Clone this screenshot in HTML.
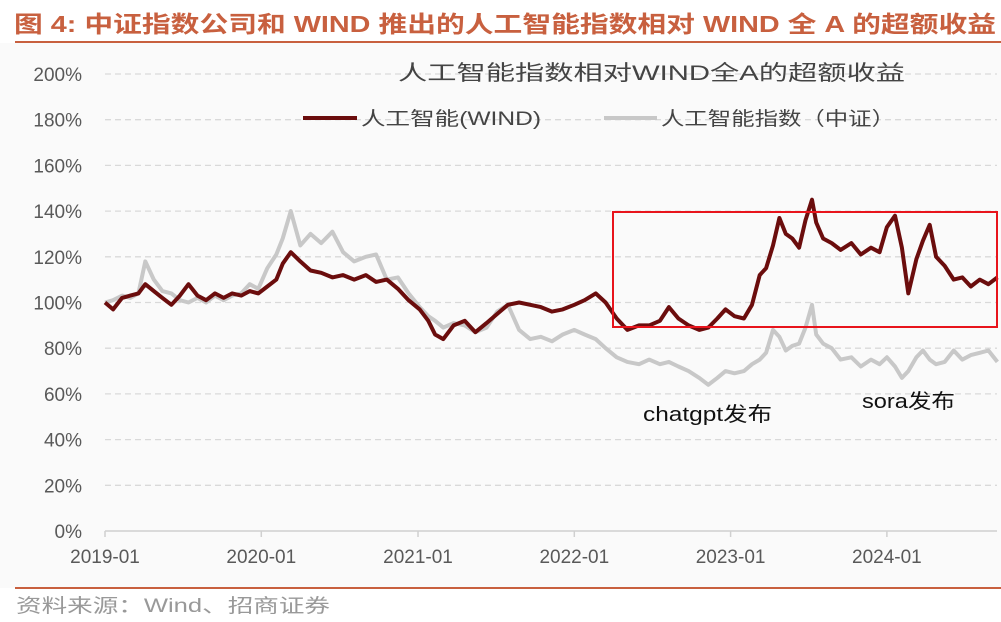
<!DOCTYPE html>
<html><head><meta charset="utf-8"><style>
body{margin:0;background:#fff;width:1001px;height:617px;overflow:hidden;font-family:"Liberation Sans","Noto Sans CJK SC",sans-serif}
</style></head><body>
<svg id="c" width="1001" height="617" xmlns="http://www.w3.org/2000/svg">
<rect x="0" y="43" width="1001" height="545" fill="#fafafa"/>
<text x="14" y="32" font-size="23" font-weight="bold" fill="#c8603f" textLength="982" lengthAdjust="spacingAndGlyphs" font-family="Liberation Sans,Noto Sans CJK SC,sans-serif">图 4:  中证指数公司和 WIND 推出的人工智能指数相对 WIND 全 A 的超额收益</text>
<line x1="15" y1="42" x2="1001" y2="42" stroke="#c8603f" stroke-width="2"/>
<line x1="15" y1="588" x2="1001" y2="588" stroke="#c8603f" stroke-width="2"/>
<text x="16" y="612" font-size="19" fill="#999" textLength="314" lengthAdjust="spacingAndGlyphs" font-family="Liberation Sans,Noto Sans CJK SC,sans-serif">资料来源：Wind、招商证券</text>
<g id="grid"></g><g id="axes"></g><g id="series"></g>
<text x="398" y="80" font-size="21" fill="#444" textLength="507" lengthAdjust="spacingAndGlyphs" font-family="Liberation Sans,Noto Sans CJK SC,sans-serif">人工智能指数相对WIND全A的超额收益</text>
<g>
<line x1="303" y1="118" x2="357" y2="118" stroke="#6b0d0d" stroke-width="4"/>
<text x="361" y="125" font-size="19" fill="#444" textLength="180" lengthAdjust="spacingAndGlyphs" font-family="Liberation Sans,Noto Sans CJK SC,sans-serif">人工智能(WIND)</text>
<line x1="604" y1="118" x2="657" y2="118" stroke="#c8c8c8" stroke-width="4"/>
<text x="661" y="125" font-size="19" fill="#444" textLength="234" lengthAdjust="spacingAndGlyphs" font-family="Liberation Sans,Noto Sans CJK SC,sans-serif">人工智能指数（中证）</text>
</g>
<rect x="613" y="212" width="384" height="115" fill="none" stroke="#e8141c" stroke-width="2"/>
<text x="643" y="421" font-size="20" fill="#111" textLength="129" lengthAdjust="spacingAndGlyphs" font-family="Liberation Sans,Noto Sans CJK SC,sans-serif">chatgpt发布</text>
<text x="862" y="408" font-size="20" fill="#111" textLength="93" lengthAdjust="spacingAndGlyphs" font-family="Liberation Sans,Noto Sans CJK SC,sans-serif">sora发布</text>
</svg>
<script>
const dates=["2019-01-01","2019-01-20","2019-02-10","2019-03-01","2019-03-20","2019-04-05","2019-04-25","2019-05-15","2019-06-05","2019-06-25","2019-07-15","2019-08-05","2019-08-25","2019-09-15","2019-10-05","2019-10-25","2019-11-15","2019-12-05","2019-12-25","2020-01-15","2020-02-05","2020-02-20","2020-03-10","2020-04-01","2020-04-25","2020-05-20","2020-06-15","2020-07-10","2020-08-05","2020-09-01","2020-09-25","2020-10-20","2020-11-15","2020-12-10","2021-01-05","2021-01-25","2021-02-10","2021-03-01","2021-03-25","2021-04-20","2021-05-15","2021-06-10","2021-07-05","2021-07-30","2021-08-25","2021-09-20","2021-10-15","2021-11-10","2021-12-05","2022-01-01","2022-01-25","2022-02-20","2022-03-15","2022-04-10","2022-05-05","2022-06-01","2022-06-25","2022-07-20","2022-08-10","2022-09-01","2022-09-25","2022-10-20","2022-11-10","2022-12-01","2022-12-20","2023-01-10","2023-02-01","2023-02-20","2023-03-10","2023-03-25","2023-04-10","2023-04-25","2023-05-10","2023-05-25","2023-06-10","2023-06-25","2023-07-10","2023-07-20","2023-08-05","2023-08-25","2023-09-15","2023-10-10","2023-11-01","2023-11-25","2023-12-15","2024-01-01","2024-01-20","2024-02-05","2024-02-20","2024-03-10","2024-03-25","2024-04-10","2024-04-25","2024-05-15","2024-06-05","2024-06-25","2024-07-15","2024-08-05","2024-08-25","2024-09-15"];
const windAI=[100,97,102,103,104,108,105,102,99,103,108,103,101,104,102,104,103,105,104,107,110,117,122,118,114,113,111,112,110,112,109,110,106,101,97,92,86,84,90,92,87,91,95,99,100,99,98,96,97,99,101,104,100,93,88,90,90,92,98,93,90,88,89,93,97,94,93,99,112,115,125,137,130,128,124,136,145,135,128,126,123,126,121,124,122,133,138,124,104,119,127,134,120,116,110,111,107,110,108,111];
const csiAI=[100,101,103,102,104,118,110,105,104,101,100,102,100,103,101,103,104,108,106,115,121,128,140,125,130,126,131,122,118,120,121,110,111,104,98,94,92,89,91,90,87,89,96,99,88,84,85,83,86,88,86,84,80,76,74,73,75,73,74,72,70,67,64,67,70,69,70,73,75,78,88,85,79,81,82,89,99,86,82,80,75,76,72,75,73,76,72,67,70,76,79,75,73,74,79,75,77,78,79,74];
const yTicks=[0,20,40,60,80,100,120,140,160,180,200];
const xTicks=["2019-01","2020-01","2021-01","2022-01","2023-01","2024-01"];
const X0=105,X1=997,T0=Date.UTC(2019,0,1),PXY=156.4;
function xs(d){const p=d.split('-').map(Number);const t=Date.UTC(p[0],p[1]-1,p[2]||1);return X0+(t-T0)/(365.25*864e5)*PXY;}
function ys(v){return 531-v*(531-74)/200;}
const NS="http://www.w3.org/2000/svg";
function mk(tag,attrs,parent){const e=document.createElementNS(NS,tag);for(const k in attrs)e.setAttribute(k,attrs[k]);document.getElementById(parent).appendChild(e);return e;}
yTicks.forEach(v=>{
  if(v>0){const g=mk('line',{x1:X0,x2:X1,y1:ys(v),y2:ys(v),stroke:'#d9d9d9','stroke-width':1.3,'stroke-dasharray':'6,4'},'grid');
  
  }
  const t=mk('text',{x:82,y:ys(v)+7,'font-size':19,fill:'#595959','text-anchor':'end'},'axes');t.textContent=v+'%';
  
  
});
const ax=mk('line',{x1:X0,x2:X1,y1:531,y2:531,stroke:'#d0d0d0','stroke-width':1.5},'axes');


xTicks.forEach(s=>{const x=xs(s+'-01');
  const tk=mk('line',{x1:x,x2:x,y1:531,y2:537,stroke:'#d0d0d0','stroke-width':1.5},'axes');
  
  
  const t=mk('text',{x:x,y:563,'font-size':19,fill:'#595959','text-anchor':'middle'},'axes');t.textContent=s;
  
  
});
function line(vals,color,w,name){const d=vals.map((v,i)=>(i?'L':'M')+xs(dates[i]).toFixed(1)+','+ys(v).toFixed(1)).join('');
  const p=mk('path',{d:d,fill:'none',stroke:color,'stroke-width':w,'stroke-linejoin':'round'},'series');
  
  }
line(csiAI,'#c8c8c8',4,'csi-ai-line');
line(windAI,'#6b0d0d',4,'wind-ai-line');
</script>
</body></html>
